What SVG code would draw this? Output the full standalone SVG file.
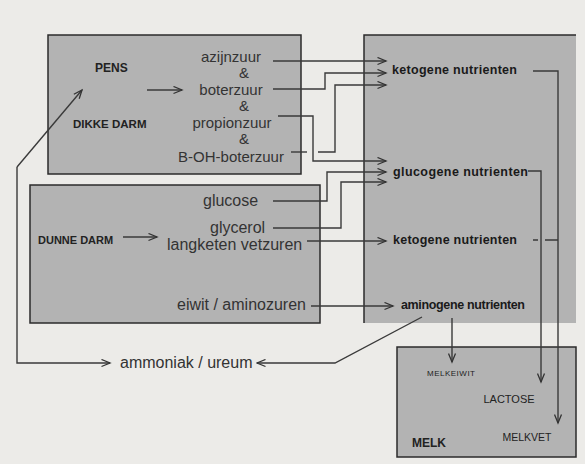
<svg xmlns="http://www.w3.org/2000/svg" width="585" height="464" viewBox="0 0 585 464">
<defs>
<marker id="ah" markerUnits="userSpaceOnUse" markerWidth="11" markerHeight="9" refX="9.5" refY="4.5" orient="auto">
<path d="M1,1 L9.5,4.5 L1,8" fill="none" stroke="#333" stroke-width="1.3"/>
</marker>
<style>
.box{fill:#b3b3b3;stroke:#2b2b2b;stroke-width:1.5}
.edge{fill:none;stroke:#2b2b2b;stroke-width:1.5}
.t15{font-family:"Liberation Sans",Arial,sans-serif;font-size:15px;fill:#333}
.t16{font-family:"Liberation Sans",Arial,sans-serif;font-size:16px;fill:#333}
.lbl{font-family:"Liberation Sans",Arial,sans-serif;font-weight:bold;fill:#222}
.nut{font-family:"Liberation Sans",Arial,sans-serif;font-weight:bold;font-size:12.5px;fill:#1a1a1a}
.sm{font-family:"Liberation Sans",Arial,sans-serif;fill:#222}
.c{fill:none;stroke:#3a3a3a;stroke-width:1.4}
.a{marker-end:url(#ah)}
</style>
</defs>
<rect x="0" y="0" width="585" height="464" fill="#ecebe8"/>

<g id="dikke-darm">
<rect class="box" x="48" y="35" width="253" height="139"/>
<text class="lbl" x="95" y="72" font-size="12">PENS</text>
<text class="lbl" x="73" y="128" font-size="11.5">DIKKE DARM</text>
<text class="t15" x="231" y="62" text-anchor="middle">azijnzuur</text>
<text class="t15" x="244" y="78" text-anchor="middle">&amp;</text>
<text class="t15" x="231" y="95" text-anchor="middle">boterzuur</text>
<text class="t15" x="244" y="111" text-anchor="middle">&amp;</text>
<text class="t15" x="232" y="128" text-anchor="middle">propionzuur</text>
<text class="t15" x="244" y="144" text-anchor="middle">&amp;</text>
<text class="t15" x="231" y="162" text-anchor="middle">B-OH-boterzuur</text>
</g>

<g id="dunne-darm">
<rect class="box" x="30" y="185" width="290" height="138"/>
<text class="lbl" x="38" y="244" font-size="11">DUNNE DARM</text>
<text class="t16" x="203" y="206">glucose</text>
<text class="t16" x="210" y="233">glycerol</text>
<text class="t16" x="167" y="250">langketen vetzuren</text>
<text class="t16" x="177" y="310">eiwit / aminozuren</text>
</g>

<g id="nutrienten">
<rect x="364" y="35" width="212" height="288" fill="#b3b3b3"/>
<path class="edge" d="M364,323 V35 H576"/>
<text class="nut" x="392" y="74" textLength="125">ketogene nutrienten</text>
<text class="nut" x="393" y="176" textLength="135">glucogene nutrienten</text>
<text class="nut" x="393" y="244" textLength="124">ketogene nutrienten</text>
<text class="nut" x="401" y="309" textLength="124">aminogene nutrienten</text>
</g>

<g id="melk">
<rect class="box" x="397" y="347" width="179" height="110"/>
<text class="sm" x="451" y="376" font-size="8" text-anchor="middle" textLength="48">MELKEIWIT</text>
<text class="sm" x="509" y="403" font-size="11" text-anchor="middle">LACTOSE</text>
<text class="sm" x="527" y="441" font-size="10.5" text-anchor="middle">MELKVET</text>
<text class="lbl" x="412" y="447" font-size="12">MELK</text>
</g>

<g id="ammoniak">
<text class="t16" x="120" y="368">ammoniak / ureum</text>
</g>

<g id="connectors">
<path class="c a" d="M147,90 H182"/>
<path class="c a" d="M123,237 H157"/>
<path class="c a" d="M273,61 H386"/>
<path class="c a" d="M273,89 H325 V73 H386"/>
<path class="c" d="M291,152 H307"/>
<path class="c a" d="M318,152 H335 V85 H386"/>
<path class="c a" d="M278,116 H313 V161 H386"/>
<path class="c a" d="M273,201 H327 V172 H386"/>
<path class="c a" d="M273,228 H341 V182 H386"/>
<path class="c a" d="M307,241 H386"/>
<path class="c a" d="M311,306 H393"/>
<path class="c a" d="M533,71 H558 V423"/>
<path class="c a" d="M528,171 H541 V382"/>
<path class="c" d="M533,240 H538 M545,240 H558"/>
<path class="c a" d="M452,318 V362"/>
<path class="c a" d="M422,317 L335,363 H257"/>
<path class="c a" d="M17,167 L82,90"/>
<path class="c a" d="M17,167 V363 H110"/>
</g>
</svg>
